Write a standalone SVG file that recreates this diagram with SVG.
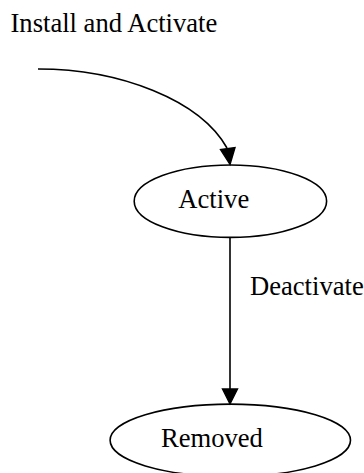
<svg xmlns="http://www.w3.org/2000/svg" width="364" height="473" viewBox="0 0 364 473">
  <style>
    .node ellipse { fill: none; stroke: #000; stroke-width: 1.6; }
    .label { font-family: "Liberation Serif", "Times New Roman", serif; font-size: 26.6px; fill: #000; }
    .edge path { fill: none; stroke: #000; stroke-width: 1.6; }
    .edge polygon { fill: #000; stroke: #000; stroke-width: 1.4; }
  </style>
  <rect width="364" height="473" fill="#fff"/>

  <!-- edges -->
  <g id="edges">
    <g class="edge" id="edge-start-active">
      <path d="M38,69 C120,69 200,100 227,148"/>
      <polygon points="230,164.5 220.5,149.5 235,147.5"/>
      <text class="label" x="10.5" y="31.5">Install and Activate</text>
    </g>
    <g class="edge" id="edge-active-removed">
      <path d="M230,237.5 L230,389"/>
      <polygon points="230,404 222.5,389 237.5,389"/>
      <text class="label" x="250" y="295">Deactivate</text>
    </g>
  </g>

  <!-- nodes -->
  <g class="node" id="node-active">
    <ellipse cx="230.4" cy="201.2" rx="96.2" ry="36.2"/>
    <text class="label" x="178.3" y="208.3">Active</text>
  </g>
  <g class="node" id="node-removed">
    <ellipse cx="230.3" cy="440.3" rx="120.2" ry="36.2"/>
    <text class="label" x="161" y="447.3">Removed</text>
  </g>
</svg>
